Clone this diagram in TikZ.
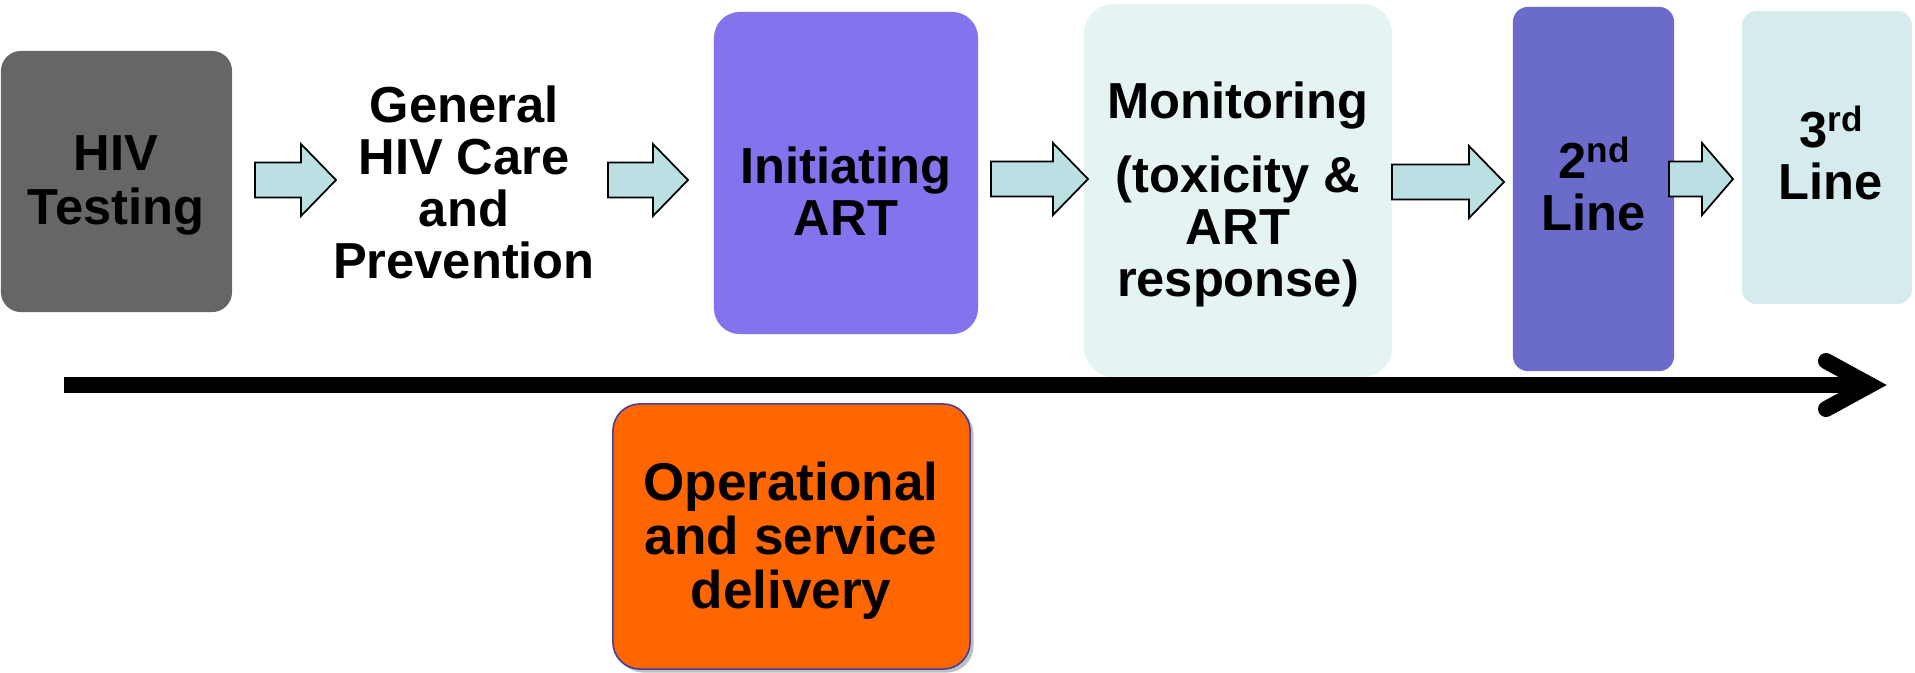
\documentclass[tikz,border=0pt]{standalone}
\usepackage{fontspec}
\setmainfont{Liberation Sans}
\usetikzlibrary{calc,shadows}

\definecolor{testfill}{HTML}{666666}
\definecolor{initfill}{HTML}{8373EC}
\definecolor{monfill}{HTML}{E6F3F3}
\definecolor{secondfill}{HTML}{6B6BCC}
\definecolor{thirdfill}{HTML}{D6EBEE}
\definecolor{arrowfill}{HTML}{BBE0E3}
\definecolor{opsfill}{HTML}{FF6600}
\definecolor{opsedge}{HTML}{3F3F9F}

% centred lines whose baseline is that of the first line
\newcommand\stacklines[1]{\vtop{\halign{\hfil##\hfil\cr#1\crcr}}}
% ordinal suffix, raised and smaller
\newcommand\supr[1]{\raisebox{4.3pt}{\fontsize{10}{10}\selectfont #1}}
% block arrow: tail x, head base x, tip x, centre y
\newcommand\blockarrow[4]{%
  \draw[barrow] (#1,{#4-17.5}) -- (#2,{#4-17.5}) -- (#2,{#4-36}) -- (#3,#4)
    -- (#2,{#4+36}) -- (#2,{#4+17.5}) -- (#1,{#4+17.5}) -- cycle;}

\begin{document}
\begin{tikzpicture}[x=0.01cm, y=-0.01cm,
  box/.style={rectangle, inner sep=0pt, draw=none},
  boxtext/.style={inner sep=0pt, anchor=base,
    font=\fontsize{14.4}{14.8}\selectfont\bfseries},
  barrow/.style={fill=arrowfill, draw=black, line width=0.5pt, line join=miter},
  timeline/.style={draw=black, line width=0.16cm}]

\useasboundingbox (0,0) rectangle (1915,672);

% stage boxes
\node[box, fill=testfill, rounded corners=0.2cm,
      minimum width=2.31cm, minimum height=2.61cm] (btest) at (116.5,181.5) {};
\node[box, fill=initfill, rounded corners=0.26cm,
      minimum width=2.64cm, minimum height=3.22cm] (binit) at (846,173) {};
\node[box, fill=monfill, rounded corners=0.3cm,
      minimum width=3.08cm, minimum height=3.73cm] (bmon) at (1238,190.5) {};
\node[box, fill=secondfill, rounded corners=0.15cm,
      minimum width=1.61cm, minimum height=3.64cm] (bsecond) at (1593.5,189) {};
\node[box, fill=thirdfill, rounded corners=0.15cm,
      minimum width=1.70cm, minimum height=2.93cm] (bthird) at (1827,157.5) {};

% time line with open arrow head
\coordinate (tstart) at (64,385);
\coordinate (ttip) at (1870,385);
\draw[timeline, line cap=butt] (tstart) -- (ttip);
\draw[timeline, line cap=round, line join=miter]
  ($(ttip)+(-44,-24)$) -- (ttip) -- ($(ttip)+(-44,24)$);

% operational box under the time line
\node[box, fill=opsfill, draw=opsedge, line width=0.45pt, rounded corners=0.27cm,
      minimum width=3.57cm, minimum height=2.65cm,
      drop shadow={shadow xshift=0.035cm, shadow yshift=-0.035cm, opacity=0.25, fill=black}]
      (bops) at (791.5,536.5) {};

% block arrows between stages
\blockarrow{255}{301}{336}{180}
\blockarrow{608}{653}{688}{180}
\blockarrow{991}{1053}{1088}{179}
\blockarrow{1392}{1469}{1504}{182}
\blockarrow{1669}{1702}{1733}{179}

% stage texts
\node[boxtext, font=\fontsize{14.4}{15.4}\selectfont\bfseries] (ttest) at (116,170)
  {\stacklines{HIV\cr Testing}};
\node[boxtext] (tcare) at (464,122)
  {\stacklines{General\cr HIV Care\cr and\cr Prevention}};
\node[boxtext] (tinit) at (846,183)
  {\stacklines{Initiating\cr ART}};
\node[boxtext] (tmon) at (1238,118)
  {\stacklines{Monitoring\cr\noalign{\vskip 6.3pt}(toxicity \&\cr ART\cr response)}};
\node[boxtext] (tsecond) at (1594,178)
  {\stacklines{2\supr{nd}\cr Line}};
\node[boxtext] (tthird) at (1831,147)
  {\stacklines{3\supr{rd}\cr Line}};
\node[boxtext, font=\fontsize{15.1}{15.4}\selectfont\bfseries] (tops) at (791,500)
  {\stacklines{Operational\cr and service\cr delivery}};

\end{tikzpicture}
\end{document}
